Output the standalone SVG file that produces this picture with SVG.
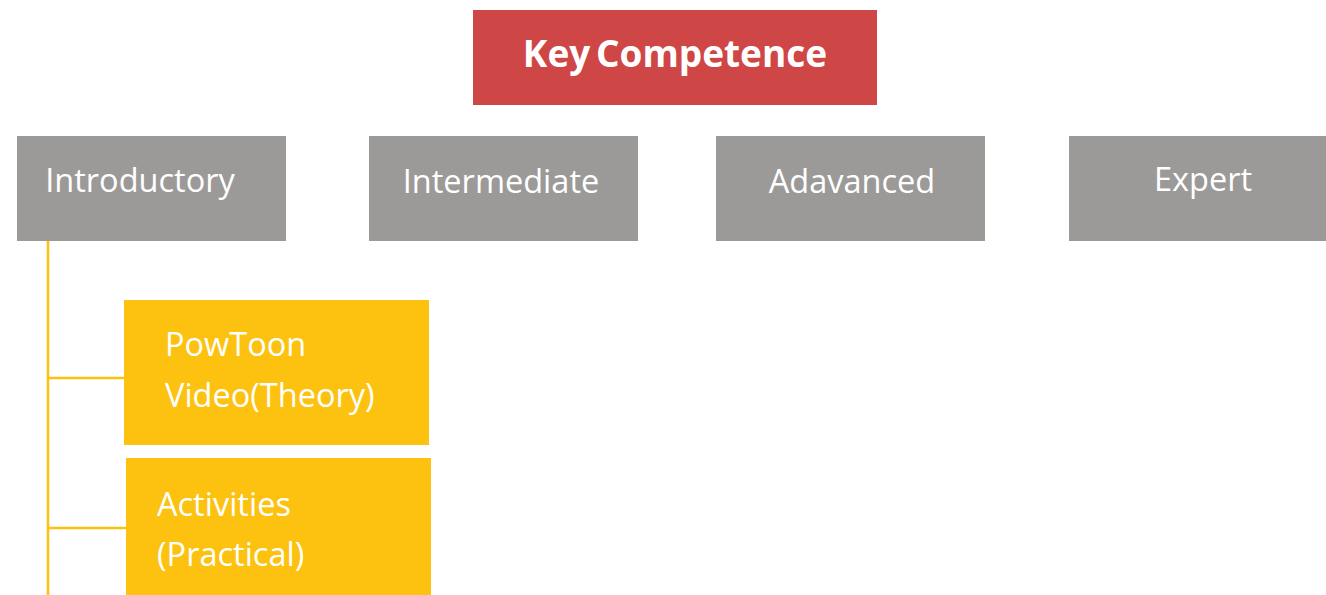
<svg xmlns="http://www.w3.org/2000/svg" width="1326" height="595" viewBox="0 0 1326 595">
<style>
.t{font-family:"Open Sans","Noto Sans","Liberation Sans",sans-serif;fill:#ffffff;font-size:32.5px;}
.lvl{fill:#9C9A98;}
.act{fill:#FDC20F;}
.c{stroke:#FDC20F;stroke-width:2.5;fill:none;}
</style>
<rect width="1326" height="595" fill="#ffffff"/>
<g id="connectors">
<line class="c" x1="48" y1="241" x2="48" y2="595"/>
<line class="c" x1="48" y1="378" x2="124" y2="378"/>
<line class="c" x1="48" y1="528" x2="126" y2="528"/>
</g>
<g id="key-competence">
<rect x="473" y="10" width="404" height="95" fill="#CF4646"/>
<text class="t" x="675" y="67" style="font-size:37px" font-weight="bold" word-spacing="-4" text-anchor="middle">Key Competence</text>
</g>
<g id="introductory">
<rect class="lvl" x="17" y="136" width="269" height="105"/>
<text class="t" x="140" y="192" text-anchor="middle">Introductory</text>
</g>
<g id="intermediate">
<rect class="lvl" x="369" y="136" width="269" height="105"/>
<text class="t" x="501" y="193" text-anchor="middle">Intermediate</text>
</g>
<g id="adavanced">
<rect class="lvl" x="716" y="136" width="269" height="105"/>
<text class="t" x="852" y="193" text-anchor="middle">Adavanced</text>
</g>
<g id="expert">
<rect class="lvl" x="1069" y="136" width="269" height="105"/>
<text class="t" x="1203" y="191" text-anchor="middle">Expert</text>
</g>
<g id="powtoon">
<rect class="act" x="124" y="300" width="305" height="145"/>
<text class="t" x="165" y="356">PowToon</text>
<text class="t" x="165" y="407">Video(Theory)</text>
</g>
<g id="activities">
<rect class="act" x="126" y="458" width="305" height="140"/>
<text class="t" x="157" y="516">Activities</text>
<text class="t" x="157" y="566">(Practical)</text>
</g>
</svg>
